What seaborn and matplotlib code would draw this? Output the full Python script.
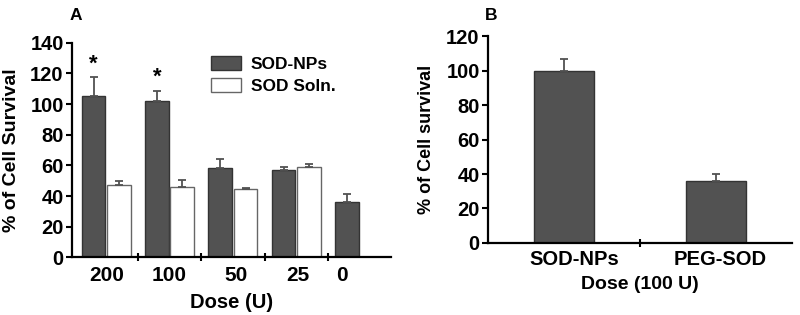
import numpy as np
import pandas as pd
import matplotlib
matplotlib.use("Agg")
import matplotlib.pyplot as plt
import seaborn as sns
from matplotlib.patches import Patch

# ---- data (panel A) ----
doses = ["200", "100", "50", "25", "0"]
np_vals = [105.2, 101.8, 58.0, 56.7, 36.3]
np_err = [12.2, 6.9, 6.3, 2.2, 4.8]
soln_doses = ["200", "100", "50", "25"]
soln_vals = [47.4, 46.0, 44.6, 58.7]
soln_err = [2.6, 4.4, 0.8, 2.3]
groups = ["SOD-NPs", "SOD Soln."]
star_doses = ["200", "100"]

# ---- data (panel B) ----
b_cats = ["SOD-NPs", "PEG-SOD"]
b_vals = [99.7, 35.8]
b_err = [6.8, 4.4]

sns.set_theme(style="ticks")
plt.rcParams["font.family"] = ["Liberation Sans", "DejaVu Sans"]
plt.rcParams["font.weight"] = "bold"
plt.rcParams["axes.labelweight"] = "bold"

DARK = "#525252"
fig = plt.figure(figsize=(8, 3.15), dpi=100)
axA = fig.add_axes([0.09, 0.183, 0.399, 0.681])
axB = fig.add_axes([0.61, 0.2286, 0.38, 0.657])


def bold_ticks(ax):
    for lbl in ax.get_xticklabels(minor=True) + ax.get_xticklabels() + ax.get_yticklabels():
        lbl.set_fontweight("bold")
        lbl.set_color("black")


# ---------- Panel A ----------
dfA = pd.DataFrame({
    "dose": doses + soln_doses,
    "value": np_vals + soln_vals,
    "group": [groups[0]] * len(np_vals) + [groups[1]] * len(soln_vals),
})
sns.barplot(data=dfA, x="dose", y="value", hue="group", order=doses,
            hue_order=groups, palette={groups[0]: DARK, groups[1]: "white"},
            width=0.8, gap=0.06, errorbar=None, legend=False, ax=axA,
            linewidth=1.0, saturation=1)
edge_cols = ["#333333", "#666666"]
errs = [np_err, soln_err]
for cont, ec, er in zip(axA.containers, edge_cols, errs):
    xs, hs = [], []
    for bar in cont:
        bar.set_edgecolor(ec)
        xs.append(bar.get_x() + bar.get_width() / 2)
        hs.append(bar.get_height())
    axA.errorbar(xs, hs, yerr=[np.zeros(len(er)), er], fmt="none",
                 ecolor=DARK, elinewidth=1.3, capsize=3.2, capthick=1.3, zorder=1)

# asterisks
np_cont = axA.containers[0]
for d in star_doses:
    i = doses.index(d)
    bar = np_cont[i]
    axA.text(bar.get_x() + bar.get_width() / 2, np_vals[i] + np_err[i] + 2, "*",
             ha="center", va="bottom", fontsize=16, fontweight="bold", color="black")

axA.set_ylim(0, 140)
axA.set_xlim(-0.54, 4.5)
axA.set_yticks(range(0, 141, 20))
axA.set_xticks([0.5, 1.5, 2.5, 3.5])
axA.set_xticklabels([])
axA.set_xticks([0, 1, 2.05, 3.03, 3.72], minor=True)
axA.set_xticklabels(doses, minor=True)
axA.tick_params(axis="x", which="major", direction="inout", length=6, width=1.5, color="black")
axA.tick_params(axis="x", which="minor", length=0, labelsize=15, pad=6)
axA.tick_params(axis="y", direction="out", length=4, width=1.5, labelsize=14.5, pad=2, color="black")
axA.set_xlabel("Dose (U)", fontsize=14.5, fontweight="bold", labelpad=6, color="black")
axA.set_ylabel("% of Cell Survival", fontsize=14, fontweight="bold", labelpad=7, color="black")
bold_ticks(axA)
for s in ["top", "right"]:
    axA.spines[s].set_visible(False)
for s in ["left", "bottom"]:
    axA.spines[s].set_linewidth(1.6)
    axA.spines[s].set_color("black")

handles = [Patch(facecolor=DARK, edgecolor="#333333", linewidth=1.0),
           Patch(facecolor="white", edgecolor="#666666", linewidth=1.0)]
leg = axA.legend(handles, groups, loc="upper left", bbox_to_anchor=(0.435, 0.937),
                 frameon=False, handlelength=1.75, handleheight=0.85, handletextpad=0.55,
                 labelspacing=0.35, borderpad=0, borderaxespad=0,
                 prop={"family": ["Liberation Sans"], "size": 12.5, "weight": "bold"})
for t in leg.get_texts():
    t.set_color("black")
    t.set_fontweight("bold")
fig.text(0.0875, 0.935, "A", fontsize=12.5, fontweight="bold", color="black")

# ---------- Panel B ----------
dfB = pd.DataFrame({"cat": b_cats, "value": b_vals})
sns.barplot(data=dfB, x="cat", y="value", order=b_cats, color=DARK,
            width=0.39, errorbar=None, ax=axB, linewidth=1.0,
            edgecolor="#333333", saturation=1)
xs = [bar.get_x() + bar.get_width() / 2 for bar in axB.containers[0]]
hs = [bar.get_height() for bar in axB.containers[0]]
axB.errorbar(xs, hs, yerr=[np.zeros(len(b_err)), b_err], fmt="none",
             ecolor=DARK, elinewidth=1.3, capsize=3.2, capthick=1.3, zorder=1)
axB.set_ylim(0, 120)
axB.set_xlim(-0.5, 1.5)
axB.set_yticks(range(0, 121, 20))
axB.set_xticks([0.5])
axB.set_xticklabels([])
axB.set_xticks([0.07, 1.03], minor=True)
axB.set_xticklabels(b_cats, minor=True)
axB.tick_params(axis="x", which="major", direction="inout", length=6, width=1.5, color="black")
axB.tick_params(axis="x", which="minor", length=0, labelsize=14.5, pad=5)
axB.tick_params(axis="y", direction="out", length=4, width=1.5, labelsize=14.5, pad=2, color="black")
axB.set_xlabel("Dose (100 U)", fontsize=14, fontweight="bold", labelpad=5, color="black")
axB.set_ylabel("% of Cell survival", fontsize=13, fontweight="bold", labelpad=8, color="black")
bold_ticks(axB)
for s in ["top", "right"]:
    axB.spines[s].set_visible(False)
for s in ["left", "bottom"]:
    axB.spines[s].set_linewidth(1.6)
    axB.spines[s].set_color("black")
fig.text(0.606, 0.935, "B", fontsize=12.5, fontweight="bold", color="black")

fig.savefig("out.png", dpi=100)
